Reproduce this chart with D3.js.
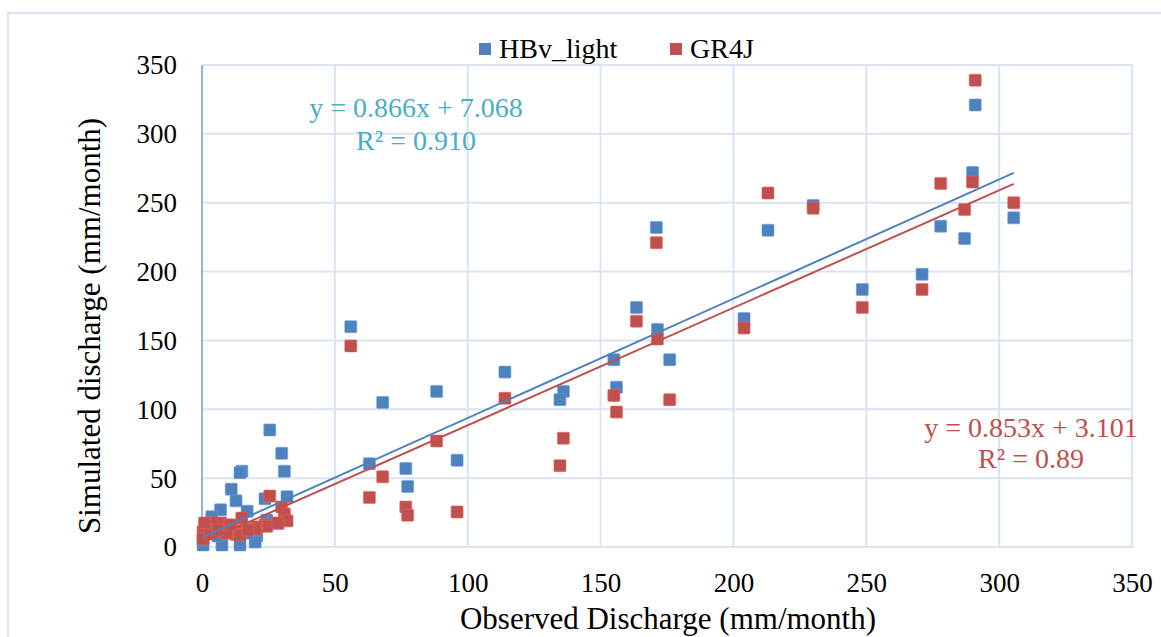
<!DOCTYPE html>
<html>
<head>
<meta charset="utf-8">
<script src="https://cdn.jsdelivr.net/npm/d3@7"></script>
<style>
  html, body { margin: 0; padding: 0; background: #fff; }
  svg { display: block; }
  svg text { font-family: "Liberation Serif", "Times New Roman", serif !important; }
</style>
</head>
<body>
<svg id="chart" width="1161" height="637"></svg>
<script>
// ---- data ----
const observed = [291, 290, 278, 287, 305.5, 213, 230, 248.5, 271, 204,
  171, 163.5, 171.4, 176, 155, 156, 114, 136, 134.7, 56,
  68, 88.3, 96, 63, 76.7, 77.4, 25.5, 30, 31, 15,
  14.3, 11, 12.8, 23.7, 32, 7, 17, 3.7, 24.4, 20.6,
  20, 0.4, 7.5, 14.3, 28.6, 0.4, 3, 9.4, 6, 10.5,
  17.3, 1];
const hbvLight = [321, 272, 233, 224, 239, 230, 248, 187, 198, 166,
  232, 174, 158, 136, 136, 116, 127, 113, 107, 160,
  105, 113, 63, 60.5, 57, 44, 85, 68, 55, 55,
  54, 42, 33.5, 35, 36.5, 27, 26, 22, 19.6, 8,
  3.6, 1.5, 1.5, 1.5, 17, 5, 10, 12, 8, 14,
  10, 15];
const gr4j = [339, 265, 264, 245, 250, 257, 246, 174, 187, 159,
  221, 164, 151, 107, 110, 98, 108, 79, 59, 146,
  51, 77, 25.5, 36, 29, 23, 37, 29, 24, 21,
  12, 16, 9, 16, 19, 17.5, 12.4, 17.5, 15, 14.6,
  13, 11, 12, 8.7, 17.5, 6, 10, 10, 12.4, 16,
  12.4, 17.5];
const seriesNames = ["HBv_light", "GR4J"];
const slopes = [0.866, 0.853];
const intercepts = [7.068, 3.101];
const eqLabels = [["y = 0.866x + 7.068", "R² = 0.910"], ["y = 0.853x + 3.101", "R² = 0.89"]];
const xTicks = [0, 50, 100, 150, 200, 250, 300, 350];
const yTicks = [0, 50, 100, 150, 200, 250, 300, 350];
const xTitle = "Observed Discharge (mm/month)";
const yTitle = "Simulated discharge (mm/month)";

// ---- layout ----
const FONT = "'Liberation Serif', 'Times New Roman', serif";
const colors = ["#4F81BD", "#C0504D"];
const eqColors = ["#4BACC6", "#C0504D"];
const gridColor = "#DAE3F3";
const svg = d3.select("#chart");
const L = 202, R = 1132, T = 65, B = 547;
const x = d3.scaleLinear().domain([0, 350]).range([L, R]);
const y = d3.scaleLinear().domain([0, 350]).range([B, T]);

// outer border
svg.append("rect").attr("x", 8).attr("y", 13).attr("width", 1170).attr("height", 640)
  .attr("fill", "none").attr("stroke", gridColor).attr("stroke-width", 2);

// gridlines
svg.append("g").selectAll("line.h").data(yTicks).join("line")
  .attr("x1", L).attr("x2", R).attr("y1", d => y(d)).attr("y2", d => y(d))
  .attr("stroke", gridColor).attr("stroke-width", 2);
svg.append("g").selectAll("line.v").data(xTicks).join("line")
  .attr("y1", T).attr("y2", B).attr("x1", d => x(d)).attr("x2", d => x(d))
  .attr("stroke", d => d === 0 ? "#8EB4E3" : gridColor).attr("stroke-width", 2);

// axes via d3 axis (labels only)
const xAxis = svg.append("g").attr("transform", `translate(0,${B})`)
  .call(d3.axisBottom(x).tickValues(xTicks).tickSize(0).tickPadding(0));
xAxis.attr("font-family", null).attr("font-size", null);
xAxis.select(".domain").remove();
xAxis.selectAll("text").style("font-size", "27px").attr("fill", "#000")
  .style("font-family", FONT).attr("dy", null).attr("y", 45);

const yAxis = svg.append("g").attr("transform", `translate(${L},0)`)
  .call(d3.axisLeft(y).tickValues(yTicks).tickSize(0).tickPadding(0));
yAxis.attr("font-family", null).attr("font-size", null);
yAxis.select(".domain").remove();
yAxis.selectAll("text").style("font-size", "27px").attr("fill", "#000")
  .style("font-family", FONT).attr("x", -25).attr("dy", "0.33em");

// axis titles
svg.append("text").attr("x", 668).attr("y", 629).attr("text-anchor", "middle")
  .style("font-size", "31px").style("font-family", FONT).attr("fill", "#000").text(xTitle);
svg.append("text").attr("transform", "translate(100,326) rotate(-90)")
  .attr("text-anchor", "middle").style("font-size", "31px").style("font-family", FONT)
  .attr("fill", "#000").text(yTitle);

// markers
const ms = 12;
const seriesData = [hbvLight, gr4j];
seriesData.forEach((vals, si) => {
  svg.append("g").selectAll("rect").data(observed.map((o, i) => [o, vals[i]])).join("rect")
    .attr("x", d => x(d[0]) - ms / 2).attr("y", d => y(d[1]) - ms / 2)
    .attr("width", ms).attr("height", ms).attr("rx", 1)
    .attr("fill", colors[si])
    .attr("stroke", d3.color(colors[si]).brighter(0.6)).attr("stroke-opacity", 0.6).attr("stroke-width", 1);
});

// trendlines
const xExt = d3.extent(observed);
seriesData.forEach((vals, si) => {
  svg.append("line")
    .attr("x1", x(xExt[0])).attr("y1", y(slopes[si] * xExt[0] + intercepts[si]))
    .attr("x2", x(xExt[1])).attr("y2", y(slopes[si] * xExt[1] + intercepts[si]))
    .attr("stroke", colors[si]).attr("stroke-width", 2);
});

// equations
const eqPos = [[416, 117, 150], [1031, 437, 468]];
eqLabels.forEach((lines, si) => {
  lines.forEach((t, li) => {
    svg.append("text").attr("x", eqPos[si][0]).attr("y", eqPos[si][1 + li])
      .attr("text-anchor", "middle").style("font-size", "28px").style("font-family", FONT)
      .attr("fill", eqColors[si]).text(t);
  });
});

// legend
const legX = [479, 670];
seriesNames.forEach((n, si) => {
  svg.append("rect").attr("x", legX[si]).attr("y", 43).attr("width", 12).attr("height", 12)
    .attr("fill", colors[si]);
  svg.append("text").attr("x", legX[si] + 20).attr("y", 58).style("font-size", "28px")
    .style("font-family", FONT).attr("fill", "#000").text(n);
});
</script>
</body>
</html>
